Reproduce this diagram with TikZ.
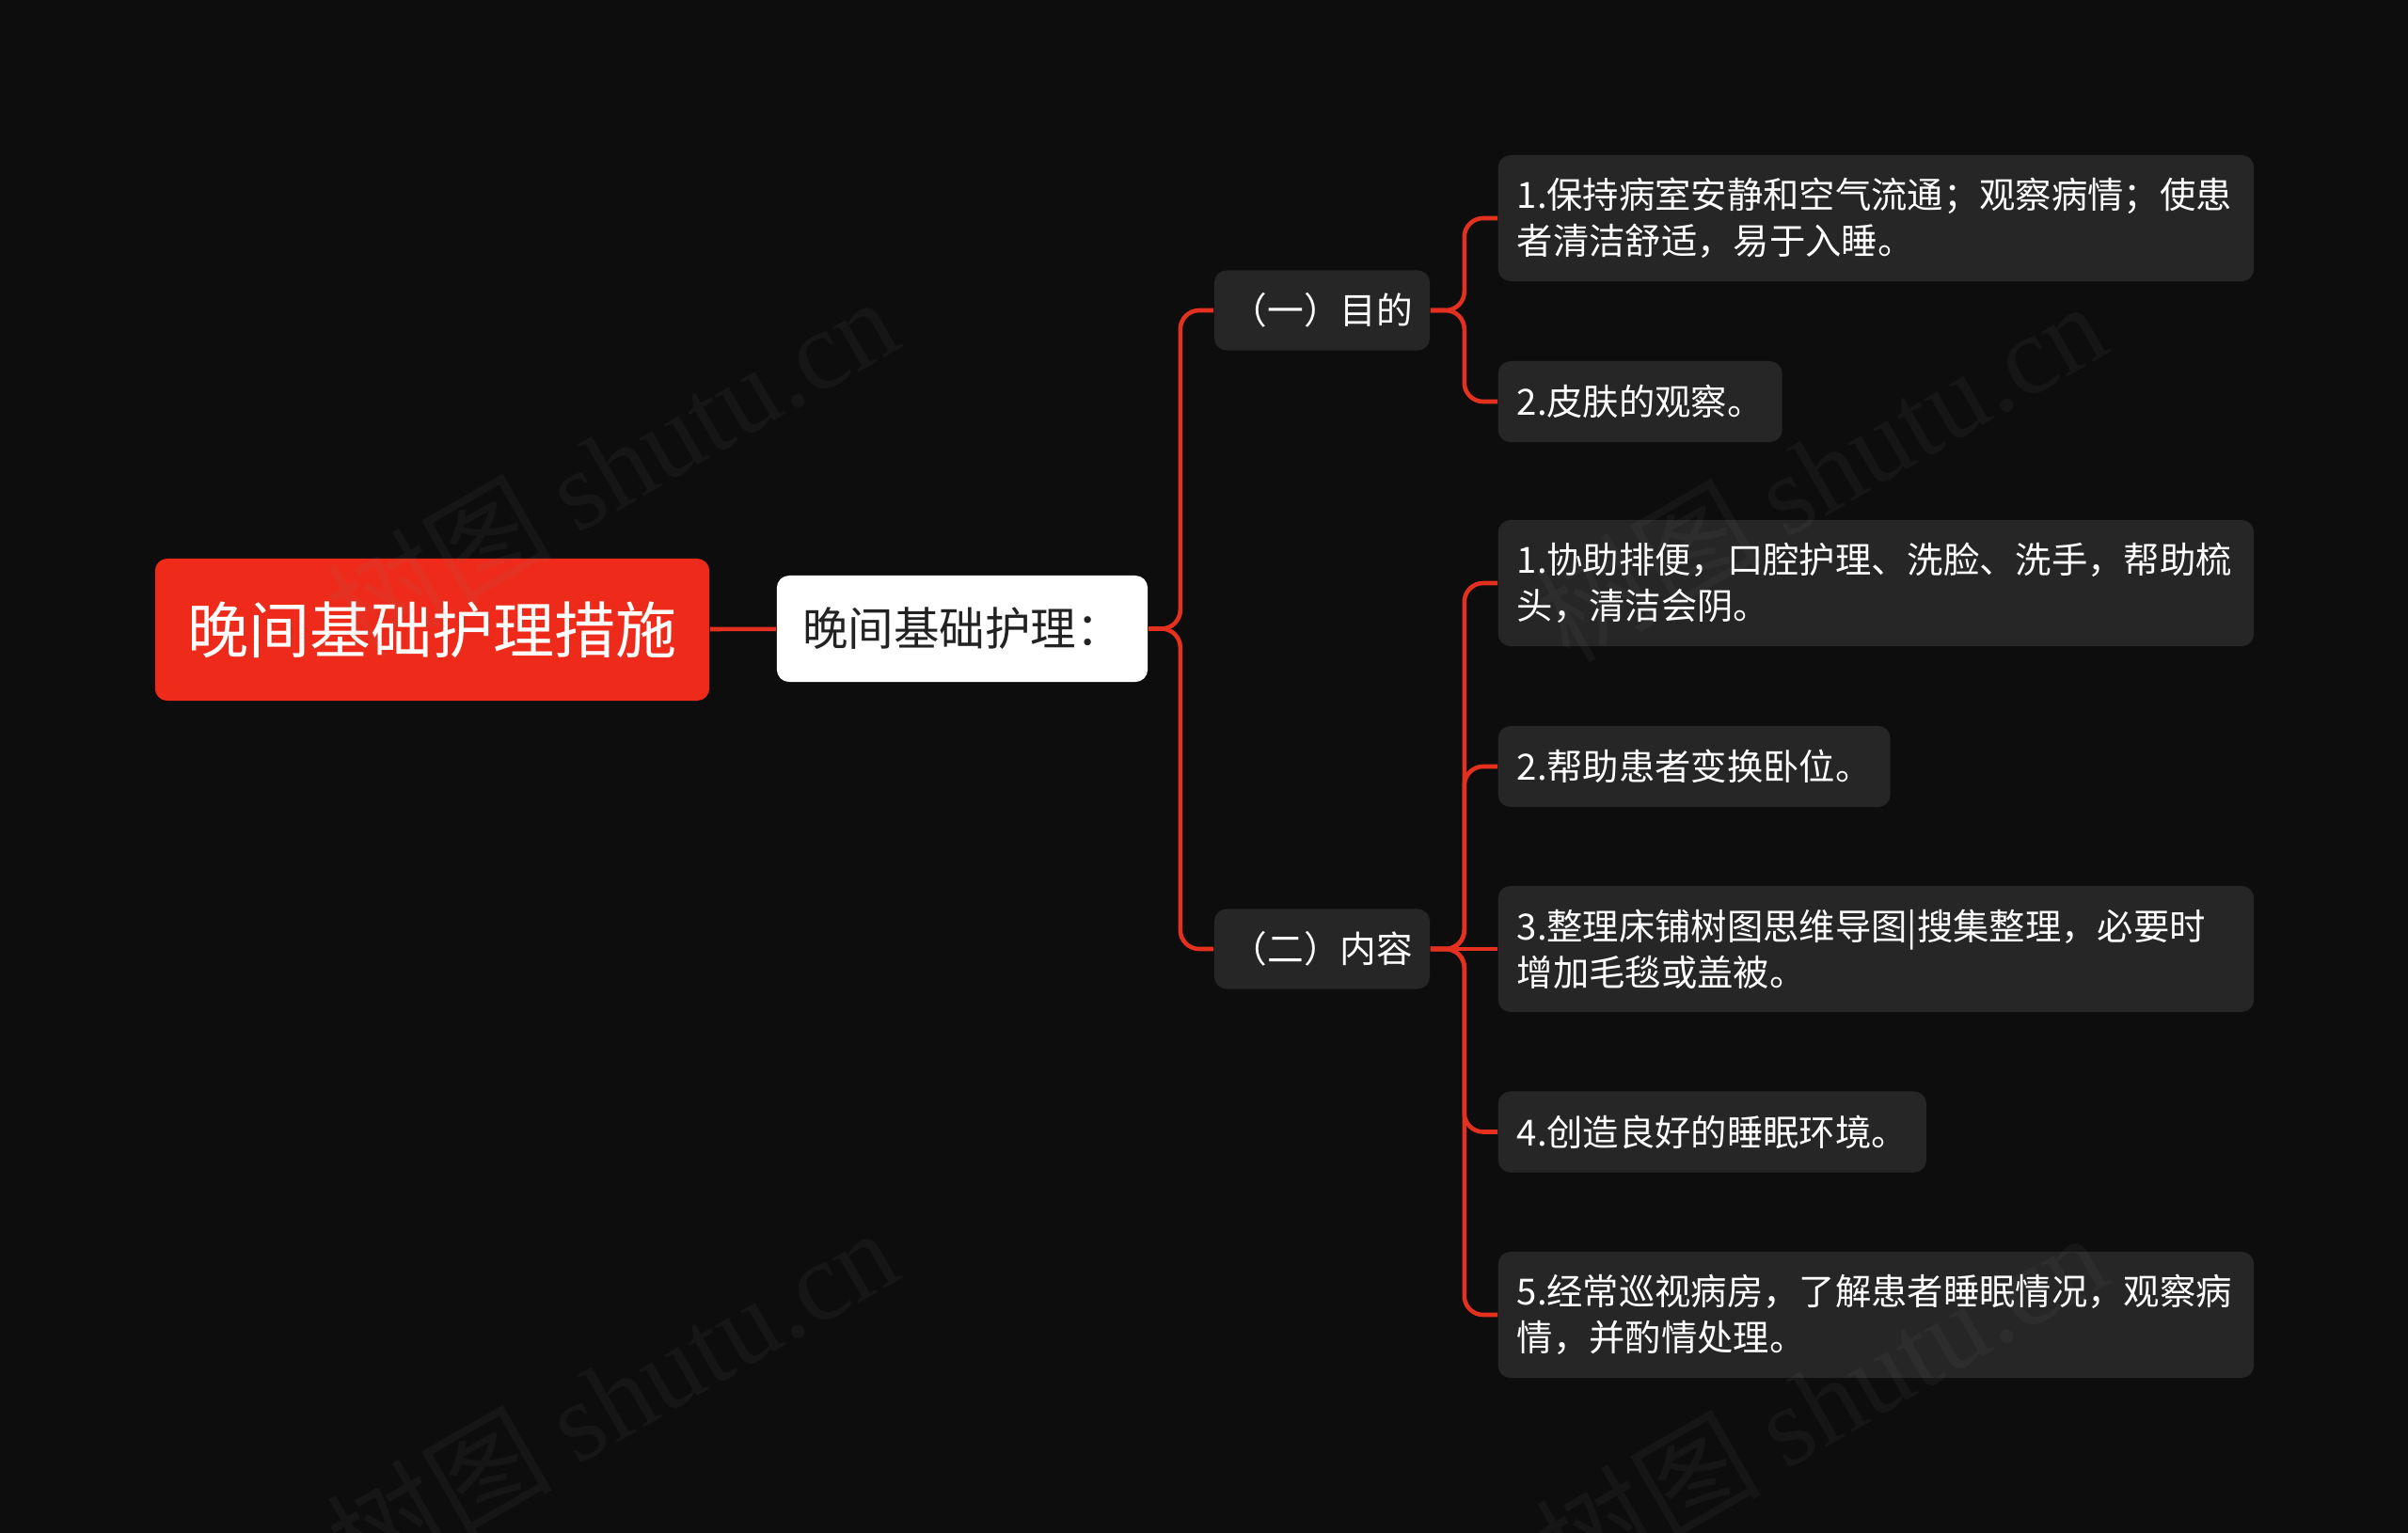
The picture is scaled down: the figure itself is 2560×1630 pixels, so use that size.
\documentclass[tikz,border=0pt]{standalone}
\usepackage{fontspec}
\setmainfont{Noto Sans CJK SC}
\newfontfamily\wmfont{Liberation Serif}
\usepackage{tikz}
\definecolor{bgblack}{HTML}{0D0D0D}
\definecolor{rootred}{HTML}{EE2B1B}
\definecolor{linkred}{HTML}{E4311F}
\definecolor{boxgray}{HTML}{262626}
\definecolor{inkdark}{HTML}{222222}
\tikzset{
  rootbox/.style  = {rectangle, rounded corners=0.13cm, fill=rootred, text=white, inner sep=0pt,
                     minimum width=5.89cm, minimum height=1.51cm, font=\fontsize{18.5pt}{22pt}\selectfont},
  topicbox/.style = {rectangle, rounded corners=0.13cm, fill=white, text=inkdark, inner sep=0pt,
                     minimum width=3.94cm, minimum height=1.13cm, font=\fontsize{13.8pt}{16pt}\selectfont},
  groupbox/.style = {rectangle, rounded corners=0.13cm, fill=boxgray, text=white, inner sep=0pt,
                     minimum width=2.29cm, minimum height=0.85cm, font=\fontsize{11pt}{13.9pt}\selectfont},
  leafbox/.style  = {rectangle, rounded corners=0.13cm, fill=boxgray, text=white, anchor=west,
                     inner xsep=0.2cm, inner ysep=0.1cm, minimum height=0.86cm, align=left,
                     font=\fontsize{10.9pt}{13.9pt}\selectfont},
  longleaf/.style = {leafbox, text width=7.63cm, minimum height=1.34cm},
  link/.style     = {linkred, line width=1.3pt, rounded corners=0.2cm},
  watermark/.style = {gray, opacity=0.08, rotate=30, font=\fontsize{34pt}{40pt}\selectfont}
}

\begin{document}
\begin{tikzpicture}[x=0.01cm, y=-0.01cm]
    \useasboundingbox (0,0) rectangle (2560,1630);
    % Background
    \fill[bgblack] (0,0) rectangle (2560,1630);
    % Root and topic
    \node[rootbox] (root) at (459.5,669.5) {晚间基础护理措施};
    \node[topicbox] (topic) at (1023,668.5) {晚间基础护理：};
    % Groups
    \node[groupbox] (aim) at (1405.5,330) {（一）目的};
    \node[groupbox] (work) at (1405.5,1009) {（二）内容};
    % Leaves of (一)
    \node[longleaf] (aim1) at (1592,232) {1.保持病室安静和空气流通；观察病情；使患\\者清洁舒适，易于入睡。};
    \node[leafbox] (aim2) at (1592,427) {2.皮肤的观察。};
    % Leaves of (二)
    \node[longleaf] (work1) at (1592,620) {1.协助排便，口腔护理、洗脸、洗手，帮助梳\\头，清洁会阴。};
    \node[leafbox] (work2) at (1592,815) {2.帮助患者变换卧位。};
    \node[longleaf] (work3) at (1592,1009) {3.整理床铺树图思维导图|搜集整理，必要时\\增加毛毯或盖被。};
    \node[leafbox] (work4) at (1592,1203.5) {4.创造良好的睡眠环境。};
    \node[longleaf] (work5) at (1592,1398) {5.经常巡视病房，了解患者睡眠情况，观察病\\情，并酌情处理。};
    % Links
    \draw[link] (root) -- (topic);
    \draw[link] (topic.east) -- ++(34,0) |- (aim.west);
    \draw[link] (topic.east) -- ++(34,0) |- (work.west);
    \draw[link] (aim.east) -- ++(36,0) |- (aim1.west);
    \draw[link] (aim.east) -- ++(36,0) |- (aim2.west);
    \draw[link] (work.east) -- ++(36,0) |- (work1.west);
    \draw[link] (work.east) -- ++(36,0) |- (work2.west);
    \draw[link] (work.east) -- (work3.west);
    \draw[link] (work.east) -- ++(36,0) |- (work4.west);
    \draw[link] (work.east) -- ++(36,0) |- (work5.west);
    % Watermarks
    \begin{scope}
      \clip (0,0) rectangle (2560,1630);
      \node[watermark] (wm1) at (650,495) {树图 {\wmfont shutu.cn}};
      \node[watermark] (wm2) at (650,1485) {树图 {\wmfont shutu.cn}};
      \node[watermark] (wm3) at (1935,500) {树图 {\wmfont shutu.cn}};
      \node[watermark] (wm4) at (1935,1490) {树图 {\wmfont shutu.cn}};
    \end{scope}
\end{tikzpicture}
\end{document}
